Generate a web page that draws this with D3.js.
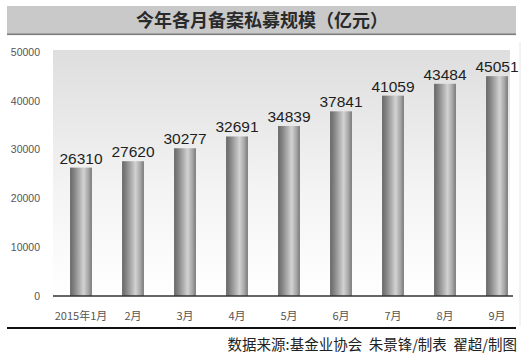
<!DOCTYPE html>
<html><head><meta charset="utf-8">
<script src="https://cdn.jsdelivr.net/npm/d3@7"></script>
<style>body{margin:0;background:#fff}svg{display:block}</style>
</head><body>
<script>
const title = "今年各月备案私募规模（亿元）";
const categories = ["2015年1月","2月","3月","4月","5月","6月","7月","8月","9月"];
const values = [26310,27620,30277,32691,34839,37841,41059,43484,45051];
const yTicks = [0,10000,20000,30000,40000,50000];
const source = "数据来源:基金业协会  朱景锋/制表  翟超/制图";

const W=526,H=355;
const svg=d3.select("body").append("svg").attr("width",W).attr("height",H);
const defs=svg.append("defs");
const bg=defs.append("linearGradient").attr("id","bg").attr("x1",0).attr("y1",0).attr("x2",0).attr("y2",1);
bg.append("stop").attr("offset","0%").attr("stop-color","#dedede");
bg.append("stop").attr("offset","55%").attr("stop-color","#f3f3f3");
bg.append("stop").attr("offset","100%").attr("stop-color","#ffffff");
const bar=defs.append("linearGradient").attr("id","bar").attr("x1",0).attr("y1",0).attr("x2",1).attr("y2",0);
[["0%","#666"],["25%","#8e8e8e"],["62%","#d2d2d2"],["85%","#a4a4a4"],["100%","#777"]].forEach(s=>bar.append("stop").attr("offset",s[0]).attr("stop-color",s[1]));

const font="'Noto Sans CJK SC','Noto Sans',sans-serif";

// title bar
svg.append("rect").attr("x",7).attr("y",6).attr("width",509).attr("height",29).attr("fill","#c9c9c9");
svg.append("rect").attr("x",7).attr("y",33.5).attr("width",509).attr("height",1.6).attr("fill","#7c7c7c");
svg.append("text").attr("x",262).attr("y",27).attr("text-anchor","middle").attr("font-family",font)
  .attr("font-size",18).attr("font-weight","bold").attr("fill","#2a2a2a").text(title);

const x=d3.scaleBand().domain(categories).range([55,523]).paddingInner(0.58).paddingOuter(0.29);
const y=d3.scaleLinear().domain([0,50000]).range([296,52]);

// plot background
svg.append("rect").attr("x",53).attr("y",50).attr("width",457).attr("height",246).attr("fill","url(#bg)");
svg.append("line").attr("x1",520).attr("x2",520).attr("y1",42).attr("y2",326).attr("stroke","#e6e6e6");

// y axis labels
const ya=svg.append("g").attr("transform","translate(40,0)")
  .call(d3.axisLeft(y).tickValues(yTicks).tickSize(0).tickPadding(0).tickFormat(d3.format("d")));
ya.select(".domain").remove();
ya.selectAll("text").attr("font-family","'Liberation Sans',Arial,sans-serif").attr("font-size",10.5).attr("fill","#555");

// bars
svg.selectAll("rect.b").data(values).join("rect").attr("class","b")
  .attr("x",(d,i)=>x(categories[i])).attr("width",x.bandwidth())
  .attr("y",d=>y(d)).attr("height",d=>y(0)-y(d)).attr("fill","url(#bar)");

// value labels
svg.selectAll("text.v").data(values).join("text").attr("class","v")
  .attr("x",(d,i)=>x(categories[i])+x.bandwidth()/2).attr("y",d=>y(d)-4)
  .attr("text-anchor","middle").attr("font-family","'Liberation Sans',Arial,sans-serif")
  .attr("font-size",15.5).attr("fill","#1e1e1e").text(d=>d);

// x axis
const xa=svg.append("g").attr("transform","translate(0,296)")
  .call(d3.axisBottom(x).tickSize(0).tickPadding(16));
xa.select(".domain").attr("d","M53,0H513").attr("stroke","#333").attr("stroke-width",1.3);
xa.selectAll("text").attr("font-family",font).attr("font-size",11).attr("fill","#555");

// bottom rule
svg.append("rect").attr("x",7).attr("y",327).attr("width",509).attr("height",2).attr("fill","#111");
svg.append("text").attr("x",517).attr("y",350).attr("text-anchor","end").attr("font-family",font)
  .attr("font-size",14.5).attr("fill","#222").attr("xml:space","preserve").style("white-space","pre").text(source);
</script>
</body></html>
